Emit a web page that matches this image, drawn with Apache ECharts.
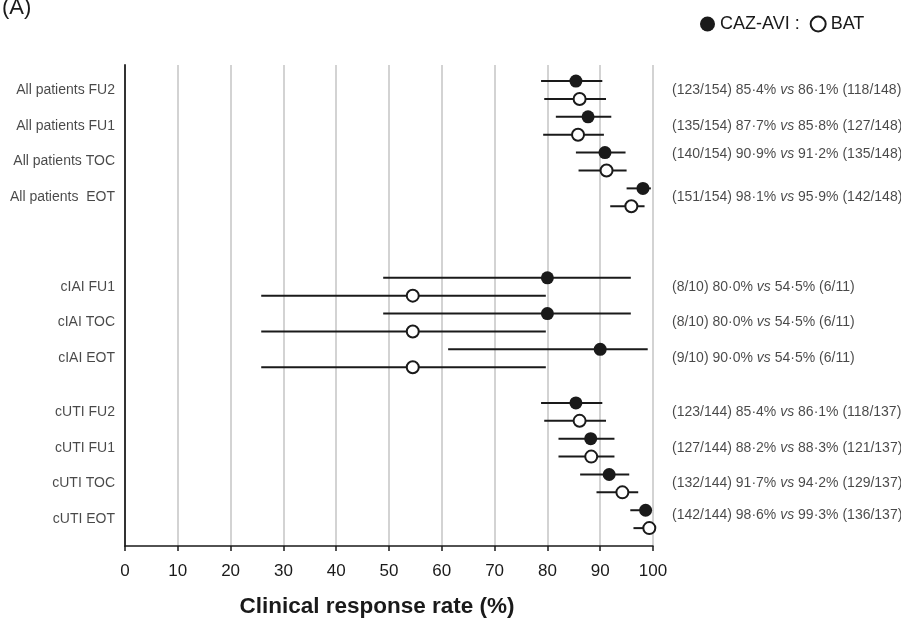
<!DOCTYPE html>
<html>
<head>
<meta charset="utf-8">
<script src="https://cdn.jsdelivr.net/npm/echarts@6/dist/echarts.min.js"></script>
<style>
  html, body { margin: 0; padding: 0; background: #fff; }
  #chart { width: 901px; height: 619px; }
</style>
</head>
<body>
<div id="chart"></div>
<script>
// rows, top to bottom
var rowLabels = ['All patients FU2', 'All patients FU1', 'All patients TOC', 'All patients  EOT',
  'cIAI FU1', 'cIAI TOC', 'cIAI EOT',
  'cUTI FU2', 'cUTI FU1', 'cUTI TOC', 'cUTI EOT'];
var rowGroup = [0, 0, 0, 0, 1, 1, 1, 2, 2, 2, 2];

// CAZ-AVI
var cazResp = [123, 135, 140, 151, 8, 8, 9, 123, 127, 132, 142];
var cazTotal = [154, 154, 154, 154, 10, 10, 10, 144, 144, 144, 144];
var cazRate = [85.4, 87.7, 90.9, 98.1, 80.0, 80.0, 90.0, 85.4, 88.2, 91.7, 98.6];
var cazLow = [78.8, 81.6, 85.4, 95.0, 48.9, 48.9, 61.2, 78.8, 82.1, 86.2, 95.7];
var cazHigh = [90.4, 92.1, 94.8, 99.6, 95.8, 95.8, 99.0, 90.4, 92.7, 95.5, 99.8];

// BAT
var batResp = [118, 127, 135, 142, 6, 6, 6, 118, 121, 129, 136];
var batTotal = [148, 148, 148, 148, 11, 11, 11, 137, 137, 137, 137];
var batRate = [86.1, 85.8, 91.2, 95.9, 54.5, 54.5, 54.5, 86.1, 88.3, 94.2, 99.3];
var batLow = [79.4, 79.2, 85.9, 91.9, 25.8, 25.8, 25.8, 79.4, 82.1, 89.3, 96.3];
var batHigh = [91.1, 90.7, 95.0, 98.4, 79.7, 79.7, 79.7, 91.1, 92.7, 97.2, 99.8];

var xTicks = [0, 10, 20, 30, 40, 50, 60, 70, 80, 90, 100];

var groupGap = [0, 3, 4];
function rowY(i) { return i * 2 + groupGap[rowGroup[i]]; }
function pct(v) { return v.toFixed(1).replace('.', '\u00b7') + '%'; }

var ink = '#1a1a1a';
var cazPts = [], batPts = [], cazBars = [], batBars = [], leftLabels = [], notes = [];
for (var i = 0; i < rowLabels.length; i++) {
  var y = rowY(i);
  cazPts.push([cazRate[i], y]);
  batPts.push([batRate[i], y + 1]);
  cazBars.push([cazLow[i], cazHigh[i], y]);
  batBars.push([batLow[i], batHigh[i], y + 1]);
  leftLabels.push({ value: [0, y + 0.5], name: rowLabels[i] });
  var shift = (i === 2) ? -0.4 : (i === 10 ? -0.2 : 0);
  notes.push({
    value: [100, y + 0.5 + shift],
    name: '{n|(' + cazResp[i] + '/' + cazTotal[i] + ') ' + pct(cazRate[i]) + ' }{i|vs}{n| ' +
      pct(batRate[i]) + ' (' + batResp[i] + '/' + batTotal[i] + ')}'
  });
}

function errorBar(params, api) {
  var a = api.coord([api.value(0), api.value(2)]);
  var b = api.coord([api.value(1), api.value(2)]);
  return {
    type: 'line',
    shape: { x1: a[0], y1: a[1], x2: b[0], y2: b[1] },
    style: { stroke: ink, lineWidth: 2 }
  };
}

var chart = echarts.init(document.getElementById('chart'));
var option = {
  animation: false,
  textStyle: { fontFamily: '"Liberation Sans", Arial, sans-serif' },
  title: {
    text: '(A)',
    left: -3,
    top: -8,
    textStyle: { fontSize: 22, fontWeight: 'normal', color: ink }
  },
  legend: {
    left: 695,
    top: 10,
    itemWidth: 15,
    itemHeight: 15,
    itemGap: 10,
    selectedMode: false,
    data: [{ name: 'CAZ-AVI', icon: 'circle' }, { name: 'BAT', icon: 'circle' }],
    formatter: function (name) { return name === 'CAZ-AVI' ? 'CAZ-AVI :' : name; },
    textStyle: { fontSize: 18, color: ink }
  },
  grid: { left: 125, right: 248, top: 65, bottom: 73, outerBoundsMode: 'none', containLabel: false },
  xAxis: {
    type: 'value',
    min: xTicks[0],
    max: xTicks[xTicks.length - 1],
    interval: 10,
    name: 'Clinical response rate (%)',
    nameLocation: 'middle',
    nameGap: 49,
    nameTextStyle: { fontSize: 22.5, fontWeight: 'bold', color: ink, padding: [0, 24, 0, 0] },
    axisLine: { onZero: false, lineStyle: { color: ink, width: 1.5 } },
    axisTick: { length: 5, lineStyle: { color: ink, width: 1.5 } },
    axisLabel: { fontSize: 17, color: ink, margin: 17 },
    splitLine: { show: true, lineStyle: { color: '#c4c4c4', width: 1.5 } }
  },
  yAxis: {
    type: 'value',
    inverse: true,
    min: -0.9,
    max: 26,
    axisLine: { show: true, onZero: false, lineStyle: { color: '#333', width: 2 } },
    axisTick: { show: false },
    axisLabel: { show: false },
    splitLine: { show: false }
  },
  series: [
    {
      type: 'custom', name: 'caz-ci', renderItem: errorBar, data: cazBars,
      encode: { x: [0, 1], y: 2 }, silent: true, z: 2
    },
    {
      type: 'custom', name: 'bat-ci', renderItem: errorBar, data: batBars,
      encode: { x: [0, 1], y: 2 }, silent: true, z: 2
    },
    {
      name: 'CAZ-AVI', type: 'scatter', data: cazPts, symbol: 'circle', symbolSize: 13,
      itemStyle: { color: ink, opacity: 1 }, silent: true, z: 3
    },
    {
      name: 'BAT', type: 'scatter', data: batPts, symbol: 'circle', symbolSize: 12,
      itemStyle: { color: '#fff', borderColor: ink, borderWidth: 2, opacity: 1 }, silent: true, z: 3
    },
    {
      type: 'scatter', name: 'rowLabels', data: leftLabels, symbolSize: 0, silent: true,
      label: {
        show: true, position: 'left', distance: 10, fontSize: 14, color: ink,
        formatter: function (p) { return p.name; }
      }
    },
    {
      type: 'scatter', name: 'notes', data: notes, symbolSize: 0, silent: true,
      label: {
        show: true, position: 'right', distance: 19,
        formatter: function (p) { return p.name; },
        rich: {
          n: { fontSize: 14, color: ink },
          i: { fontSize: 14, color: ink, fontStyle: 'italic' }
        }
      }
    }
  ]
};
chart.setOption(option);
</script>
</body>
</html>
